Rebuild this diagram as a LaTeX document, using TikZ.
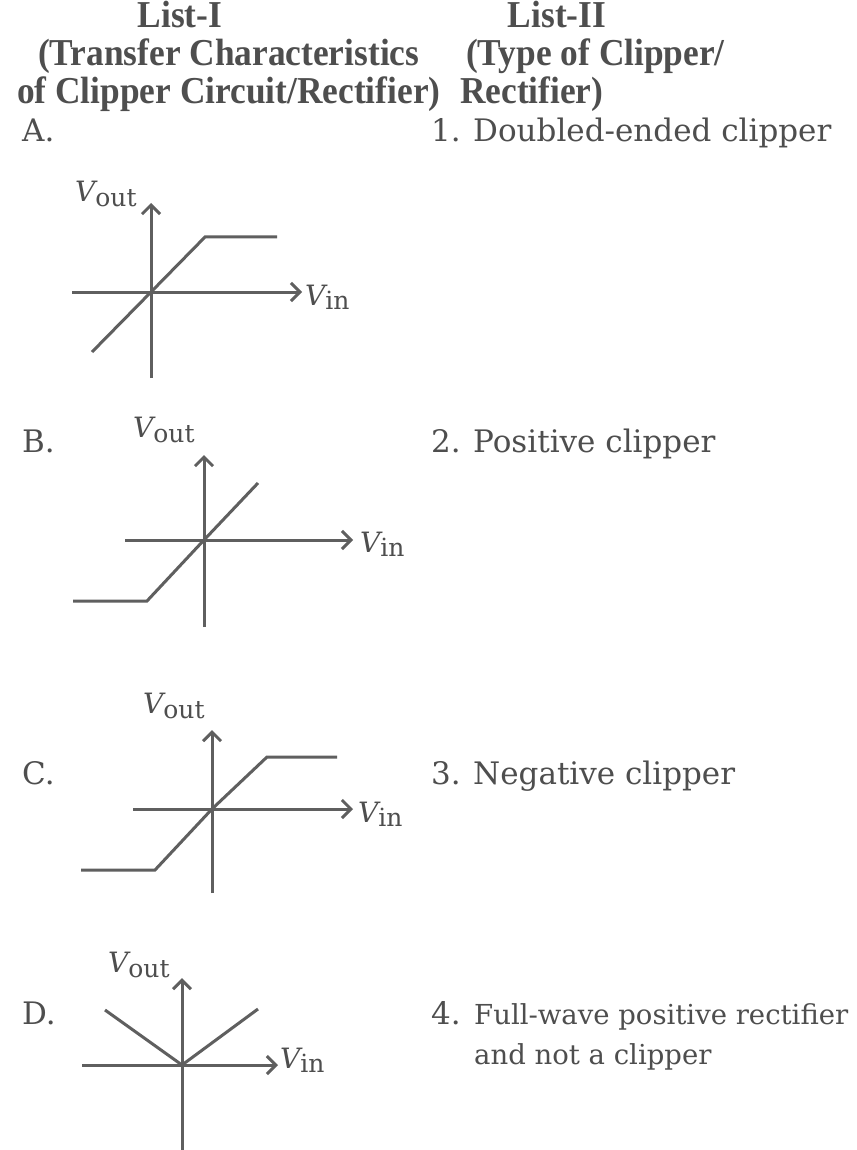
\documentclass[tikz,border=0pt]{standalone}
\usepackage{fontspec}
\setmainfont{DejaVu Serif}
\newfontfamily\hdr[FakeStretch=0.93]{Liberation Serif}
\usetikzlibrary{arrows.meta}
\definecolor{ink}{RGB}{78,78,78}
\definecolor{lin}{RGB}{95,95,95}
\tikzset{
  hd/.style={font=\hdr\bfseries\fontsize{38}{40}\selectfont, text=ink, inner sep=0pt},
  tx/.style={font=\fontsize{31}{36}\selectfont, text=ink, inner sep=0pt, anchor=base west},
  txs/.style={tx, font=\fontsize{27.5}{34}\selectfont},
  lbl/.style={text=ink, inner sep=0pt, anchor=base west},
  ax/.style={draw=lin, line width=3pt, -{Straight Barb[length=9pt,width=18pt]}},
  cv/.style={draw=lin, line width=3pt, line join=miter},
}
\newcommand\Vout{{\fontsize{28}{28}\selectfont\itshape V}\raisebox{-5pt}{\fontsize{25}{25}\selectfont out}}
\newcommand\Vin{{\fontsize{28}{28}\selectfont\itshape V}\raisebox{-4pt}{\fontsize{25}{25}\selectfont in}}
\begin{document}
\begin{tikzpicture}[x=1pt,y=-1pt]
\useasboundingbox (0,0) rectangle (856,1150);
\fill[white] (0,0) rectangle (856,1150);
% header
\node[hd, anchor=base] (l1) at (180,28) {List-I};
\node[hd, anchor=base] (l2) at (557,28) {List-II};
\node[hd, anchor=base west] (h1) at (38,66) {(Transfer Characteristics};
\node[hd, anchor=base west] (h2) at (466,66) {(Type of Clipper/};
\node[hd, anchor=base west] (h3) at (17,104) {of Clipper Circuit/Rectifier)};
\node[hd, anchor=base west] (h4) at (460,104) {Rectifier)};
% rows
\node[tx] (la) at (22,142) {A.};
\node[tx] (n1) at (431,142) {1.};
\node[tx] (t1) at (473,142) {Doubled-ended clipper};
\node[tx] (lb) at (22,452) {B.};
\node[tx] (n2) at (431,452) {2.};
\node[tx] (t2) at (473,452) {Positive clipper};
\node[tx] (lc) at (22,784) {C.};
\node[tx] (n3) at (431,784) {3.};
\node[tx] (t3) at (473,784) {Negative clipper};
\node[tx] (ld) at (22,1024) {D.};
\node[tx] (n4) at (431,1024) {4.};
\node[txs] (t4) at (474,1024) {Full-wave positive rectifier};
\node[txs] (t4b) at (474,1064) {and not a clipper};
% graph A
\coordinate (Ao) at (151,292);
\draw[ax] (151,378) -- (151,203);
\draw[ax] (72,292) -- (302,292);
\draw[cv] (92,352) -- (Ao) -- (205,237) -- (277,237);
\node[lbl] (Avo) at (75,202) {\Vout};
\node[lbl] (Avi) at (305,305) {\Vin};
% graph B
\coordinate (Bo) at (204,540);
\draw[ax] (204,627) -- (204,455);
\draw[ax] (125,540) -- (353,540);
\draw[cv] (73,601) -- (147,601) -- (Bo) -- (258,483);
\node[lbl] (Bvo) at (133,437) {\Vout};
\node[lbl] (Bvi) at (360,552) {\Vin};
% graph C
\coordinate (Co) at (212,809);
\draw[ax] (212,893) -- (212,730);
\draw[ax] (133,809) -- (353,809);
\draw[cv] (81,870) -- (155,870) -- (Co) -- (267,757) -- (337,757);
\node[lbl] (Cvo) at (143,713) {\Vout};
\node[lbl] (Cvi) at (358,822) {\Vin};
% graph D
\coordinate (Do) at (182,1065);
\draw[ax] (182,1150) -- (182,978);
\draw[ax] (82,1065) -- (278,1065);
\draw[cv] (105,1010) -- (Do) -- (258,1009);
\node[lbl] (Dvo) at (108,972) {\Vout};
\node[lbl] (Dvi) at (280,1068) {\Vin};
\end{tikzpicture}
\end{document}
